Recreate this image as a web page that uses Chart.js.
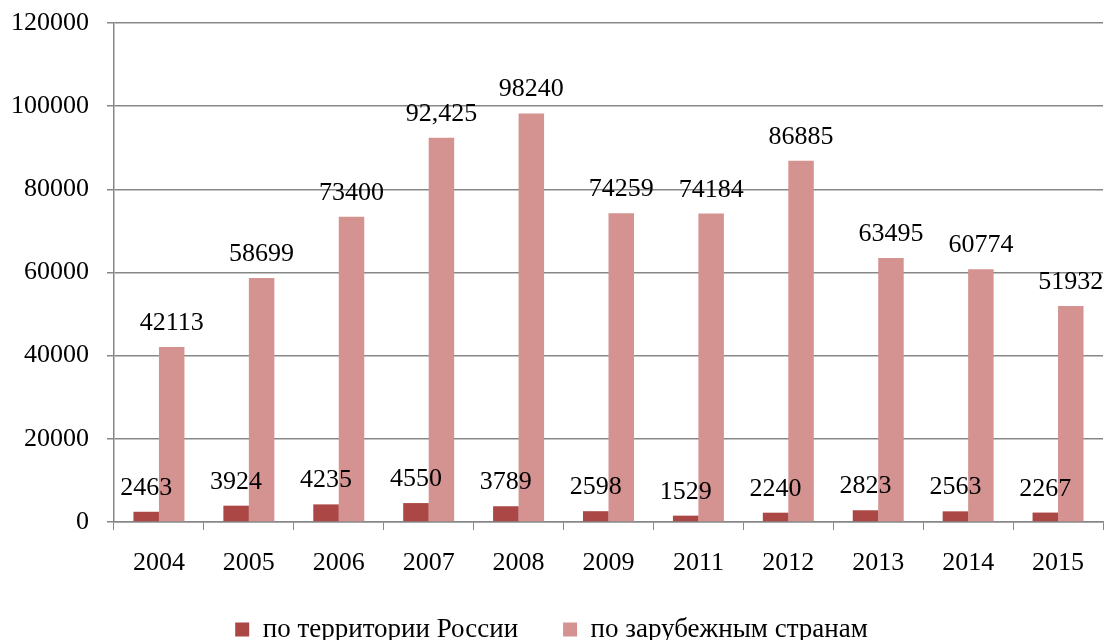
<!DOCTYPE html>
<html>
<head>
<meta charset="utf-8">
<script src="https://cdn.jsdelivr.net/npm/chart.js@4/dist/chart.umd.min.js"></script>
<style>
  body { margin: 0; background: #fff; }
  #wrap { width: 1106px; height: 640px; }
</style>
</head>
<body>
<div id="wrap"><canvas id="chart" width="1106" height="640"></canvas></div>
<script>
// data
const years = ['2004', '2005', '2006', '2007', '2008', '2009', '2011', '2012', '2013', '2014', '2015'];
const russia = [2463, 3924, 4235, 4550, 3789, 2598, 1529, 2240, 2823, 2563, 2267];
const abroad = [42113, 58699, 73400, 92425, 98240, 74259, 74184, 86885, 63495, 60774, 51932];
const russiaText = ['2463', '3924', '4235', '4550', '3789', '2598', '1529', '2240', '2823', '2563', '2267'];
const abroadText = ['42113', '58699', '73400', '92,425', '98240', '74259', '74184', '86885', '63495', '60774', '51932'];
const yTicks = [0, 20000, 40000, 60000, 80000, 100000, 120000];

const FONT = '"Liberation Serif", "Times New Roman", serif';
const GRID = '#878787';

Chart.defaults.font.family = FONT;
Chart.defaults.color = '#000';

// values above the bars
const valueLabels = {
    id: 'valueLabels',
    afterDatasetsDraw(chart) {
        const ctx = chart.ctx;
        const texts = [russiaText, abroadText];
        ctx.save();
        ctx.font = '26px ' + FONT;
        ctx.fillStyle = '#000';
        ctx.textAlign = 'center';
        ctx.textBaseline = 'alphabetic';
        chart.data.datasets.forEach(function (ds, i) {
            const meta = chart.getDatasetMeta(i);
            meta.data.forEach(function (bar, j) {
                ctx.fillText(texts[i][j], bar.x, bar.y - 17);
            });
        });
        ctx.restore();
    }
};

new Chart(document.getElementById('chart').getContext('2d'), {
    type: 'bar',
    data: {
        labels: years,
        datasets: [{
            label: 'по территории России',
            data: russia,
            backgroundColor: '#AB4744'
        }, {
            label: 'по зарубежным странам',
            data: abroad,
            backgroundColor: '#D49391'
        }]
    },
    options: {
        responsive: false,
        animation: false,
        categoryPercentage: 0.567,
        barPercentage: 1,
        layout: { padding: { top: 23, right: 3, left: 0, bottom: -13 } },
        plugins: {
            legend: {
                position: 'bottom',
                labels: {
                    color: '#000',
                    font: { family: FONT, size: 27 },
                    boxWidth: 14,
                    boxHeight: 14,
                    padding: 45
                }
            },
            tooltip: { enabled: false }
        },
        scales: {
            x: {
                grid: { drawOnChartArea: false, color: GRID, tickLength: 8 },
                border: { color: GRID, width: 1.5 },
                ticks: { color: '#000', font: { family: FONT, size: 26 }, padding: 18 },
                afterFit: function (scale) { scale.height = 49; }
            },
            y: {
                min: 0,
                max: 120000,
                afterBuildTicks: function (scale) {
                    scale.ticks = yTicks.map(function (v) { return { value: v }; });
                },
                grid: { color: GRID, lineWidth: 1.5, tickLength: 7 },
                border: { color: GRID, width: 1.5 },
                ticks: {
                    color: '#000',
                    font: { family: FONT, size: 26 },
                    padding: 18,
                    callback: function (v) { return String(v); }
                },
                afterFit: function (scale) {
                    scale.width = 114;
                    scale.paddingTop = 0;
                }
            }
        }
    },
    plugins: [valueLabels]
});
</script>
</body>
</html>
